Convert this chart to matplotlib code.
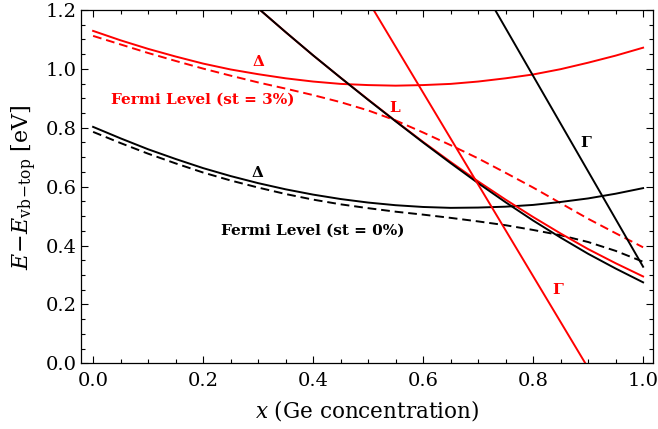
import numpy as np
import matplotlib
matplotlib.use("Agg")
import matplotlib.pyplot as plt

plt.rcParams["font.family"] = "DejaVu Serif"
plt.rcParams["mathtext.fontset"] = "dejavuserif"

# Ge concentration grid for the Delta valley / Fermi level curves
x_grid = [0.0, 0.05, 0.1, 0.15, 0.2, 0.25, 0.3, 0.35, 0.4, 0.45, 0.5,
          0.55, 0.6, 0.65, 0.7, 0.75, 0.8, 0.85, 0.9, 0.95, 1.0]

# unstrained (st = 0%)
delta_0 = [0.803, 0.764, 0.727, 0.694, 0.663, 0.636, 0.612, 0.591, 0.573, 0.558, 0.546,
           0.537, 0.531, 0.528, 0.529, 0.532, 0.538, 0.548, 0.560, 0.576, 0.595]
fermi_0 = [0.786, 0.748, 0.712, 0.679, 0.648, 0.621, 0.597, 0.575, 0.556, 0.540, 0.527,
           0.515, 0.505, 0.494, 0.482, 0.469, 0.453, 0.435, 0.412, 0.382, 0.345]

# strained (st = 3%)
delta_3 = [1.129, 1.097, 1.068, 1.042, 1.018, 0.998, 0.982, 0.968, 0.957, 0.949, 0.945,
           0.943, 0.945, 0.949, 0.957, 0.968, 0.981, 0.999, 1.021, 1.045, 1.072]
fermi_3 = [1.112, 1.083, 1.054, 1.027, 1.001, 0.977, 0.954, 0.933, 0.911, 0.887, 0.859,
           0.825, 0.784, 0.741, 0.696, 0.647, 0.597, 0.544, 0.491, 0.442, 0.394]

# L valley
xL = [0.3, 0.35, 0.4, 0.45, 0.5, 0.55, 0.6, 0.65, 0.7, 0.75, 0.8, 0.85, 0.9, 0.95, 1.0]
L_0 = [1.206, 1.125, 1.046, 0.970, 0.895, 0.822, 0.750, 0.680, 0.612, 0.547, 0.485,
       0.427, 0.372, 0.322, 0.275]
L_3 = [1.206, 1.125, 1.046, 0.970, 0.896, 0.823, 0.752, 0.684, 0.618, 0.556, 0.497,
       0.441, 0.388, 0.340, 0.295]

# Gamma valley (straight lines)
xG_0 = [0.731, 1.0]
G_0 = [1.2, 0.328]
xG_3 = [0.51, 0.895]
G_3 = [1.2, 0.0]

fig = plt.figure(figsize=(6.58, 4.29), dpi=100)
ax = fig.add_axes([0.1231, 0.1531, 0.8693, 0.8236])

lw = 1.4
dash = (0, (4.5, 2.5))
ax.plot(x_grid, delta_3, color="red", lw=lw)
ax.plot(x_grid, fermi_3, color="red", lw=lw, ls=dash)
ax.plot(x_grid, delta_0, color="black", lw=lw)
ax.plot(x_grid, fermi_0, color="black", lw=lw, ls=dash)
ax.plot(xL, L_3, color="red", lw=lw)
ax.plot(xL, L_0, color="black", lw=lw)
ax.plot(xG_3, G_3, color="red", lw=lw)
ax.plot(xG_0, G_0, color="black", lw=lw)

kw = dict(fontsize=11, fontweight="bold", ha="center", va="center")
ax.text(0.30, 1.023, "Δ", color="red", **kw)
ax.text(0.199, 0.897, "Fermi Level (st = 3%)", color="red", **kw)
ax.text(0.549, 0.866, "L", color="red", **kw)
ax.text(0.845, 0.249, "Γ", color="red", **kw)
ax.text(0.299, 0.648, "Δ", color="black", **kw)
ax.text(0.399, 0.450, "Fermi Level (st = 0%)", color="black", **kw)
ax.text(0.895, 0.747, "Γ", color="black", **kw)

ax.set_xlim(-0.022, 1.018)
ax.set_ylim(0.0, 1.2)
ax.set_xticks(np.arange(0, 1.01, 0.2))
ax.set_yticks(np.arange(0, 1.21, 0.2))
ax.set_xticks(np.arange(0, 1.01, 0.05), minor=True)
ax.set_yticks(np.arange(0, 1.21, 0.05), minor=True)
ax.xaxis.set_major_formatter(matplotlib.ticker.FormatStrFormatter("%.1f"))
ax.yaxis.set_major_formatter(matplotlib.ticker.FormatStrFormatter("%.1f"))
ax.tick_params(which="both", direction="in", top=True, right=True, labelsize=14, width=0.8)
ax.tick_params(which="major", length=5)
ax.tick_params(axis="x", which="major", pad=6)
ax.tick_params(axis="y", which="major", pad=3)
ax.tick_params(which="minor", length=3)
for s in ax.spines.values():
    s.set_linewidth(0.9)

ax.set_xlabel(r"$x$ (Ge concentration)", fontsize=15.5, labelpad=6)
ax.set_ylabel(r"$E\!-\!E_{\mathrm{vb\!-\!top}}$ [eV]", fontsize=16, labelpad=5)

fig.savefig("out.png", dpi=100)
